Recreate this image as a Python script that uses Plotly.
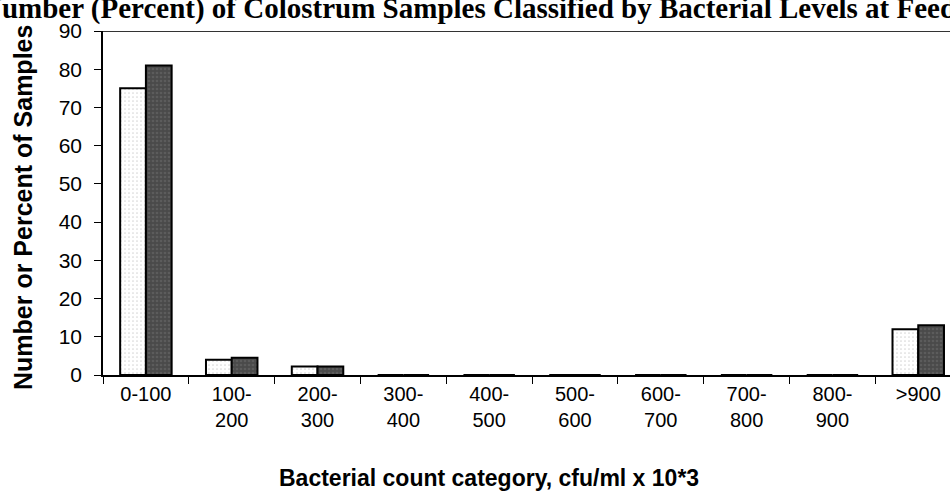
import plotly.graph_objects as go

categories = ["0-100", "100-<br>200", "200-<br>300", "300-<br>400", "400-<br>500",
              "500-<br>600", "600-<br>700", "700-<br>800", "800-<br>900", ">900"]
series_number = [75, 4, 2.2, 0, 0, 0, 0, 0, 0, 12]
series_percent = [81, 4.5, 2.2, 0, 0, 0, 0, 0, 0, 13]
y_ticks = [0, 10, 20, 30, 40, 50, 60, 70, 80, 90]

title_text = "Number (Percent) of Colostrum Samples Classified by Bacterial Levels at Feeding"
x_title = "Bacterial count category, cfu/ml x 10*3"
y_title = "Number or Percent of Samples"

W, H = 950, 498
ML, MR, MT, MB = 103, 0, 31, 123

fig = go.Figure()
fig.add_trace(go.Bar(
    x=categories, y=series_number, name="Number",
    marker=dict(color="white", line=dict(color="black", width=2),
                pattern=dict(shape=".", fgcolor="#b0b0b0", bgcolor="white", size=4, solidity=0.15)),
))
fig.add_trace(go.Bar(
    x=categories, y=series_percent, name="Percent",
    marker=dict(color="#4a4a4a", line=dict(color="black", width=2),
                pattern=dict(shape=".", fgcolor="#6e6e6e", bgcolor="#4a4a4a", size=4, solidity=0.35)),
))

plot_w = W - ML - MR
fig.update_layout(
    width=W, height=H,
    margin=dict(l=ML, r=MR, t=MT, b=MB, pad=0),
    paper_bgcolor="white", plot_bgcolor="white",
    barmode="group", bargap=0.4, bargroupgap=0,
    showlegend=False,
    font=dict(family="Liberation Sans, Arial", color="black"),
)
fig.update_xaxes(
    type="category", range=[-0.5, 9.37],
    showline=True, linecolor="black", linewidth=1.5,
    ticks="outside", tickson="boundaries", ticklen=7, tickcolor="black", tickwidth=1,
    tickfont=dict(size=20, family="Liberation Sans, Arial", color="black"),
    showgrid=False, zeroline=False,
)
fig.update_yaxes(
    range=[0, 90], tickvals=y_ticks,
    showline=True, linecolor="black", linewidth=1.5,
    ticks="outside", ticklen=7, tickcolor="black", tickwidth=1,
    ticklabelstandoff=8,
    tickfont=dict(size=21, family="Liberation Sans, Arial", color="black"),
    showgrid=False, zeroline=False,
)
fig.add_shape(type="line", xref="paper", yref="y", x0=0, x1=1, y0=90, y1=90,
              line=dict(color="#333333", width=2))

def px_to_paper_x(px):
    return (px - ML) / plot_w

def px_to_paper_y(py):
    return (H - MB - py) / (H - MT - MB)

fig.add_annotation(text="<b>" + title_text + "</b>", xref="paper", yref="paper",
                   x=px_to_paper_x(-21), y=px_to_paper_y(8), xanchor="left", yanchor="middle",
                   showarrow=False,
                   font=dict(family="Liberation Serif, Times New Roman", size=29, color="black"))
fig.add_annotation(text="<b>" + x_title + "</b>", xref="paper", yref="paper",
                   x=px_to_paper_x(489), y=px_to_paper_y(478), xanchor="center", yanchor="middle",
                   showarrow=False,
                   font=dict(family="Liberation Sans, Arial", size=23, color="black"))
fig.add_annotation(text="<b>" + y_title + "</b>", xref="paper", yref="paper",
                   x=px_to_paper_x(23), y=px_to_paper_y(208), xanchor="center", yanchor="middle",
                   textangle=-90, showarrow=False,
                   font=dict(family="Liberation Sans, Arial", size=25, color="black"))

fig.write_html("out.html")
